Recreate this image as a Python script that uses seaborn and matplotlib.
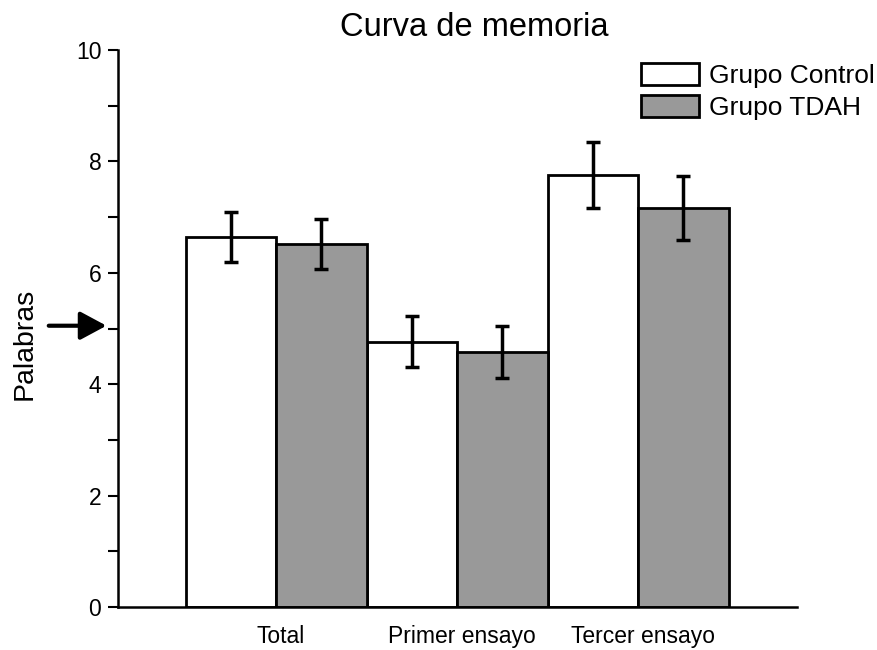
import matplotlib
matplotlib.use("Agg")
import matplotlib.pyplot as plt
import matplotlib.transforms as mtransforms
import seaborn as sns
import pandas as pd
import numpy as np
from matplotlib.patches import Patch

categories = ["Total", "Primer ensayo", "Tercer ensayo"]
groups = ["Grupo Control", "Grupo TDAH"]
control_vals = [6.64, 4.76, 7.76]
tdah_vals = [6.52, 4.58, 7.16]
control_err = [0.45, 0.46, 0.59]
tdah_err = [0.45, 0.46, 0.57]
colors = ["#ffffff", "#999999"]

sns.set_theme(style="ticks")
plt.rcParams['font.family'] = ['Liberation Sans', 'DejaVu Sans']
plt.rcParams['text.color'] = 'black'
plt.rcParams['axes.labelcolor'] = 'black'
plt.rcParams['xtick.color'] = 'black'
plt.rcParams['ytick.color'] = 'black'

df = pd.DataFrame({
    "cat": categories * 2,
    "grupo": [groups[0]] * 3 + [groups[1]] * 3,
    "val": control_vals + tdah_vals,
})

fig = plt.figure(figsize=(8.78, 6.5), dpi=100)
ax = fig.add_axes([0.1344, 0.0662, 0.7733, 0.8568])

sns.barplot(data=df, x="cat", y="val", hue="grupo", order=categories,
            hue_order=groups, palette=colors, width=1.0, gap=0,
            errorbar=None, edgecolor="black", linewidth=2, saturation=1,
            legend=False, ax=ax)

errs = control_err + tdah_err
vals = control_vals + tdah_vals
bars = [p for p in ax.patches][:6]
for p, v, e in zip(bars, vals, errs):
    cx = p.get_x() + p.get_width() / 2
    ax.errorbar(cx, v, yerr=e, fmt="none", ecolor="black", elinewidth=2.5,
                capsize=4.8, capthick=2.5, zorder=5)

ax.set_xlim(-0.873, 2.878)
ax.set_ylim(0, 10)
ax.set_yticks([0, 2, 4, 6, 8, 10])
ax.set_yticks([1, 3, 5, 7, 9], minor=True)
ax.tick_params(axis="y", which="major", length=7, width=1.5, labelsize=16.5,
               direction="out", color="black", pad=5)
ax.tick_params(axis="y", which="minor", length=7, width=1.5, direction="out", color="black")
ax.tick_params(axis="x", length=0, labelsize=16.5, pad=13)
offset = mtransforms.ScaledTranslation(5 / 100, 0, fig.dpi_scale_trans)
for lab in ax.get_xticklabels():
    lab.set_transform(lab.get_transform() + offset)
sns.despine(ax=ax)
ax.spines["left"].set_linewidth(1.8)
ax.spines["bottom"].set_linewidth(1.8)
ax.spines["left"].set_color("black")
ax.spines["bottom"].set_color("black")
ax.set_xlabel("")
ax.set_ylabel("Palabras", fontsize=20.5)
ax.yaxis.set_label_coords(-0.119, 0.472)

fig.text(0.54, 0.957, "Curva de memoria", ha="center", va="center", fontsize=23.5)

ax.annotate("", xy=(-0.017, 5.05), xycoords=("axes fraction", "data"),
            xytext=(-0.102, 5.05), textcoords=("axes fraction", "data"),
            arrowprops=dict(arrowstyle="-|>,head_length=0.8,head_width=0.43",
                            mutation_scale=20, shrinkA=0, shrinkB=0,
                            color="black", lw=3), annotation_clip=False)

handles = [Patch(facecolor=c, edgecolor="black", linewidth=2) for c in colors]
fig.legend(handles, groups, loc="upper left", bbox_to_anchor=(641 / 878, 1 - 63 / 650),
           frameon=False, fontsize=19, handlelength=2.2, handleheight=0.9,
           handletextpad=0.38, labelspacing=0.25, borderaxespad=0, borderpad=0)

fig.savefig("out.png", dpi=100)
